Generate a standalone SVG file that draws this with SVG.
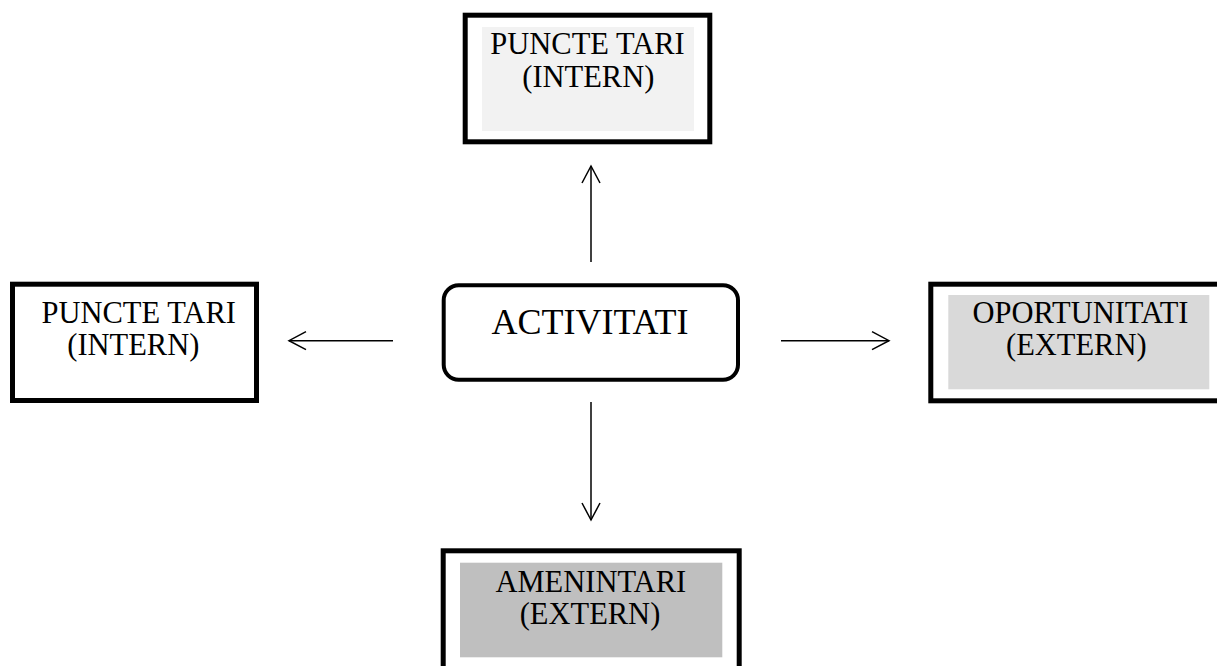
<svg xmlns="http://www.w3.org/2000/svg" width="1217" height="666" viewBox="0 0 1217 666">
<defs>
<style>
.box{fill:#ffffff;stroke:#000000;stroke-width:5}
.lbl{font-family:"Liberation Serif","Times New Roman",serif;font-size:30.5px;fill:#000000;text-anchor:middle}
.big{font-family:"Liberation Serif","Times New Roman",serif;font-size:36px;fill:#000000;text-anchor:middle}
.conn{stroke:#000000;stroke-width:1.5;fill:none;marker-end:url(#head)}
</style>
<marker id="head" markerUnits="userSpaceOnUse" viewBox="-19 -11 21 22" refX="0" refY="0" markerWidth="21" markerHeight="22" orient="auto" overflow="visible">
<path d="M-17,-9 L0,0 L-17,9" fill="none" stroke="#000000" stroke-width="1.5"/>
</marker>
</defs>
<rect width="1217" height="666" fill="#ffffff"/>

<g id="connectors">
<line class="conn" x1="591" y1="262" x2="591" y2="166"/>
<line class="conn" x1="393" y1="340.7" x2="289" y2="340.7"/>
<line class="conn" x1="781" y1="340.7" x2="889" y2="340.7"/>
<line class="conn" x1="591" y1="402" x2="591" y2="520"/>
</g>

<g id="node-top">
<rect class="box" x="465.2" y="15.2" width="244.6" height="126.6"/>
<rect x="482" y="27" width="212" height="104" fill="#f2f2f2"/>
<text class="lbl" x="587.5" y="54">PUNCTE TARI</text>
<text class="lbl" x="588.3" y="87">(INTERN)</text>
</g>

<g id="node-left">
<rect class="box" x="12.5" y="284.2" width="244" height="116.3"/>
<text class="lbl" x="138.7" y="323">PUNCTE TARI</text>
<text class="lbl" x="133.3" y="355">(INTERN)</text>
</g>

<g id="node-center">
<rect x="443.7" y="285.3" width="294.3" height="94.4" rx="15" ry="15" fill="#ffffff" stroke="#000000" stroke-width="4"/>
<text class="big" x="590" y="334">ACTIVITATI</text>
</g>

<g id="node-right">
<rect class="box" x="930.8" y="284.2" width="292" height="116.6"/>
<rect x="948.3" y="295" width="261" height="94.3" fill="#d9d9d9"/>
<text class="lbl" x="1080.5" y="323.3">OPORTUNITATI</text>
<text class="lbl" x="1076.3" y="355">(EXTERN)</text>
</g>

<g id="node-bottom">
<rect class="box" x="443.2" y="550.8" width="296" height="130"/>
<rect x="460" y="562.7" width="262.3" height="94.6" fill="#bfbfbf"/>
<text class="lbl" x="590.8" y="591.7">AMENINTARI</text>
<text class="lbl" x="590" y="623.5">(EXTERN)</text>
</g>
</svg>
